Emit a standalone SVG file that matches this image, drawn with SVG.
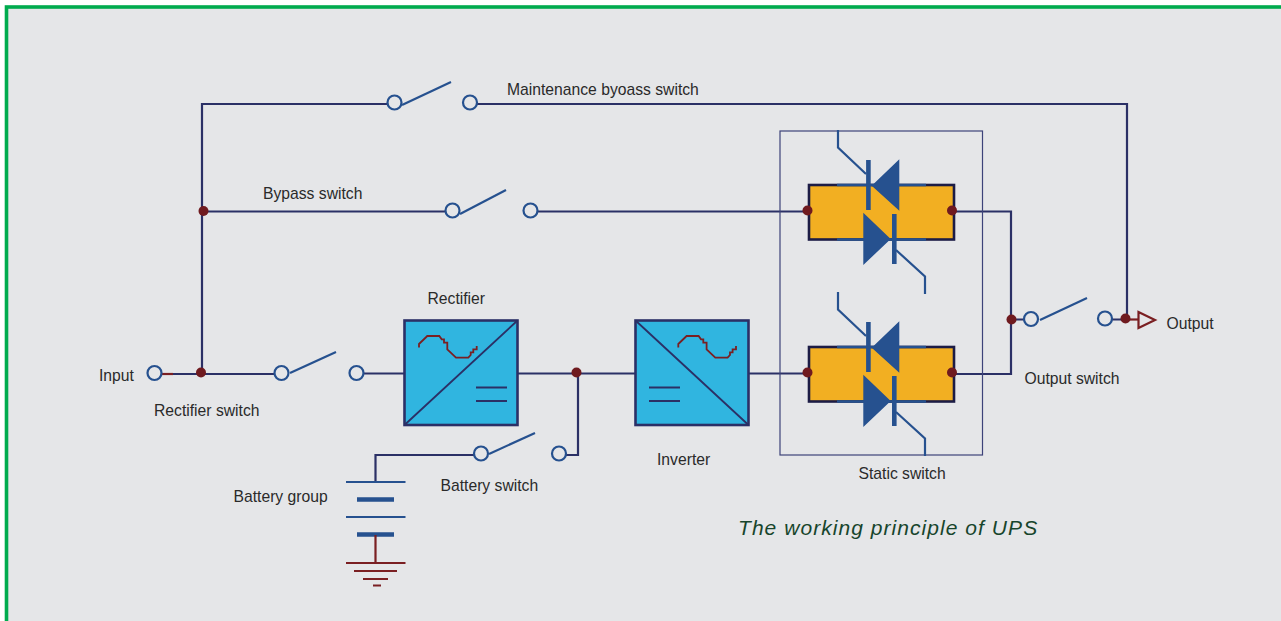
<svg xmlns="http://www.w3.org/2000/svg" xmlns:xlink="http://www.w3.org/1999/xlink" width="1281" height="621" viewBox="0 0 1281 621">
<style>
text{font-family:"Liberation Sans",Arial,sans-serif;font-size:15.7px;fill:#2a2a2a}
.title{font-style:italic;font-size:21px;letter-spacing:1.05px;fill:#17452c}
.w{fill:none;stroke:#2b3066;stroke-width:2.2}
.r{fill:none;stroke:#7a1f22;stroke-width:2.2}
.b{fill:none;stroke:#26518f;stroke-width:2.2}
.c{fill:none;stroke:#26518f;stroke-width:2.2}
.j{fill:#6f1a1f}
.box{fill:#30b5e0;stroke:#2b3066;stroke-width:2.6}
.thin{fill:none;stroke:#2b3066;stroke-width:1.8}
.wave{fill:none;stroke:#7a1f22;stroke-width:1.8}
.tr{fill:#26518f}
</style>
<defs>
<path id="wave" class="wave" d="M419 347.5V344L427.3 336H439.3L441.7 339.3H444V342.7H447.3V349.3L456 357.7H468.3L470.7 355V352.3H473.3V349.3H476.7V346"/>
<g id="static-cell">
<rect x="809" y="185" width="145" height="54.5" fill="#f2af22" stroke="#1c1c45" stroke-width="2.6"/>
<path d="M837 185H926M837 239.5H926" fill="none" stroke="#26518f" stroke-width="2.6"/>
<path class="tr" d="M871.7 185.7L899.3 159.3V210.7ZM863.3 212.7L890.7 239L863.3 265Z"/>
<path class="tr" d="M866.1 160h4.6v50h-4.6zM892 214h4.6v50H892z"/>
<path class="c" d="M838 130V147.5L866 174M896 250L925 276.5V294"/>
</g>
</defs>
<rect width="1281" height="621" fill="#fff"/>
<rect x="6.5" y="7" width="1280" height="620" fill="#e5e6e8" stroke="#00ab4e" stroke-width="3.6"/>
<g id="connectors">
<path class="w" d="M202 374V104H387M477 104H1127V319"/>
<path class="w" d="M202 211.5H445M538 211.5H808"/>
<path class="r" d="M162 374H173"/>
<path class="w" d="M173 374H275M364 373.5H404M518 373.5H635M749 373.5H808"/>
<path class="w" d="M578 373.5V455H566M474 455H375.5V482"/>
<path class="w" d="M952 211.5H1011V374H952M1011 319.5H1024M1112 319.5H1126"/>
<path class="r" d="M1128 319.5H1138"/>
</g>
<g id="maintenance-switch"><circle class="c" cx="394.5" cy="102.5" r="7"/><path class="b" d="M402 105L451 82"/><circle class="c" cx="470" cy="102.5" r="7"/></g>
<g id="bypass-switch"><circle class="c" cx="452.5" cy="210.5" r="7"/><path class="b" d="M460 214L506 190"/><circle class="c" cx="530.5" cy="210.5" r="7"/></g>
<g id="input-terminal"><circle class="c" cx="154.5" cy="373" r="7"/></g>
<g id="rectifier-switch"><circle class="c" cx="281.5" cy="373" r="7"/><path class="b" d="M290 373L336 352"/><circle class="c" cx="356.5" cy="373" r="7"/></g>
<g id="battery-switch"><circle class="c" cx="481" cy="453.5" r="7"/><path class="b" d="M489 454L535 433"/><circle class="c" cx="559" cy="453.5" r="7"/></g>
<g id="output-switch"><circle class="c" cx="1031" cy="319" r="7"/><path class="b" d="M1040 320L1087 298"/><circle class="c" cx="1105" cy="318.5" r="7"/></g>
<g id="rectifier">
<rect class="box" x="404.5" y="320.5" width="113" height="104.5"/>
<path class="thin" d="M404.5 425L517.5 320.5M476 387.5H507M476 401H507"/>
<use xlink:href="#wave" href="#wave"/>
</g>
<g id="inverter">
<rect class="box" x="635.5" y="320.5" width="113" height="104.5"/>
<path class="thin" d="M635.5 320.5L748.5 425M649 387.5H680M649 401H680"/>
<use xlink:href="#wave" href="#wave" x="259.3"/>
</g>
<g id="static-switch">
<rect x="780" y="131" width="202.5" height="324" fill="none" stroke="#3d4379" stroke-width="1.2"/>
<use xlink:href="#static-cell" href="#static-cell"/>
<use xlink:href="#static-cell" href="#static-cell" y="162"/>
</g>
<g id="battery-group">
<path class="b" d="M346 482H405.5M346 517H405.5"/>
<path fill="none" stroke="#26518f" stroke-width="4.6" d="M357 499.5H394M357 534.5H394"/>
<path class="r" d="M375.5 535V563M346 563H405.5M354 571H397M363 579H388M373 585.5H381"/>
</g>
<g id="output-terminal"><path class="r" d="M1138.5 312V328L1155 320Z"/></g>
<g id="junctions">
<circle class="j" cx="203.5" cy="211" r="5"/><circle class="j" cx="201" cy="372.5" r="5"/><circle class="j" cx="576.5" cy="372.5" r="5"/>
<circle class="j" cx="807.5" cy="210.5" r="5"/><circle class="j" cx="952" cy="210.5" r="5"/><circle class="j" cx="807.5" cy="372.5" r="5"/><circle class="j" cx="952" cy="372.5" r="5"/>
<circle class="j" cx="1011.5" cy="319.5" r="5"/><circle class="j" cx="1125.5" cy="318.5" r="5"/>
</g>
<g id="labels">
<text x="507" y="95">Maintenance byoass switch</text>
<text x="263" y="199">Bypass switch</text>
<text x="427.5" y="304">Rectifier</text>
<text x="99" y="381">Input</text>
<text x="154" y="416">Rectifier switch</text>
<text x="440.5" y="491">Battery switch</text>
<text x="233.5" y="502">Battery group</text>
<text x="657" y="465">Inverter</text>
<text x="858.5" y="479">Static switch</text>
<text x="1024.5" y="384">Output switch</text>
<text x="1166.5" y="329">Output</text>
<text class="title" x="738" y="535">The working principle of UPS</text>
</g>
</svg>
